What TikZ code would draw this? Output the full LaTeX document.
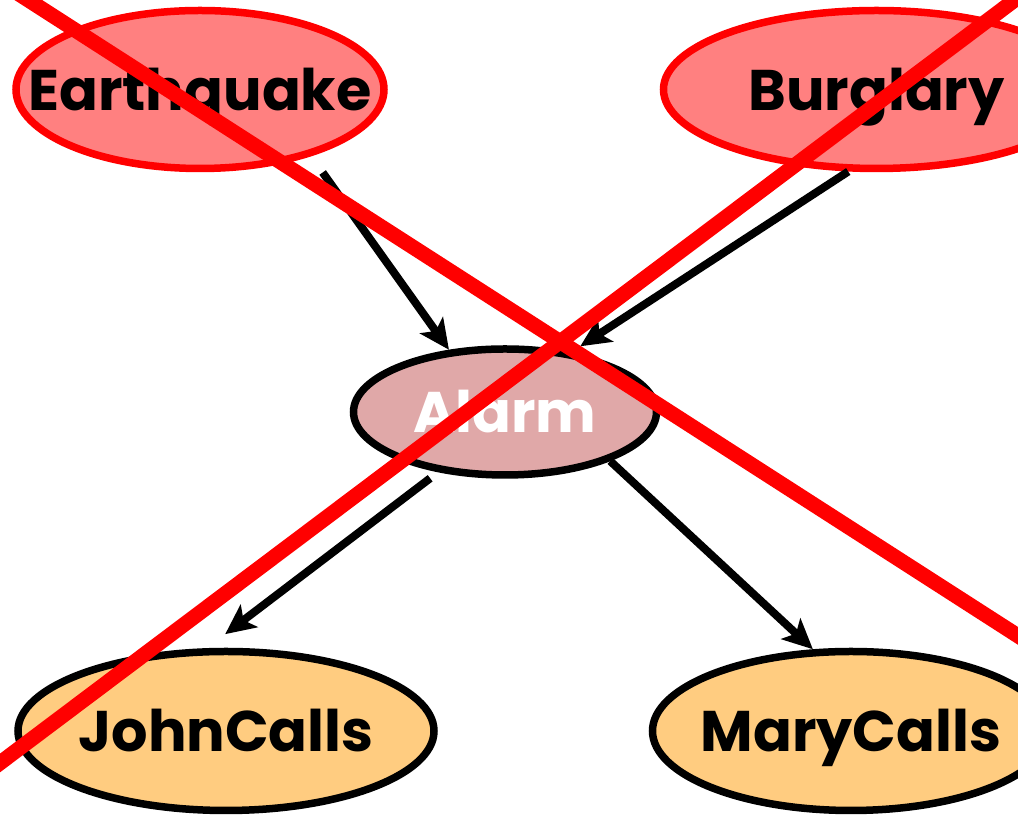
\documentclass[tikz,border=0pt]{standalone}
\usepackage{fontspec}
\setmainfont{Poppins}
\usetikzlibrary{shapes.geometric,arrows.meta}
\definecolor{causefill}{HTML}{FF8080}
\definecolor{alarmfill}{HTML}{E0A8A8}
\definecolor{callfill}{HTML}{FFCC80}

\begin{document}
\begin{tikzpicture}[
    font=\fontsize{16.3}{20}\selectfont\bfseries,
    var/.style={ellipse, line width=0.075cm, inner sep=0pt, text height=0.42cm, text depth=0pt},
    cause/.style={var, draw=red, fill=causefill, minimum height=1.58cm},
    alarmnode/.style={var, draw=black, fill=alarmfill, text=white},
    call/.style={var, draw=black, fill=callfill, minimum height=1.59cm},
    link/.style={-{Stealth[length=0.3cm,width=0.28cm,inset=0.07cm]}, line width=0.08cm},
    crossout/.style={draw=red, line width=0.15cm}
  ]
    \useasboundingbox (0,0) rectangle (10.18,-8.15);
    \clip (0,0) rectangle (10.18,-8.15);

    % the five variables
    \node [cause, minimum width=3.68cm] (eq) at (2.00,-0.895) {\makebox[0pt]{Earthquake}};
    \node [cause, minimum width=4.26cm] (burg) at (8.765,-0.895) {\makebox[0pt]{Burglary}};
    \node [alarmnode, minimum width=3.03cm, minimum height=1.26cm] (alarm) at (5.05,-4.12) {\makebox[0pt]{Alarm}};
    \node [call, minimum width=4.16cm] (john) at (2.26,-7.31) {\makebox[0pt]{JohnCalls}};
    \node [call, minimum width=3.97cm] (mary) at (8.51,-7.31) {\makebox[0pt]{MaryCalls}};

    % dependencies
    \draw [link, shorten <=0.2cm] (eq.-31) -- (alarm.132);
    \draw [link, shorten >=0.1cm] (burg.-109) -- (alarm.42);
    \draw [link, shorten <=0.1cm, shorten >=0.23cm] (alarm.222) -- (john.103);
    \draw [link] (alarm.-25) -- (mary.115);

    % crossed out
    \draw [crossout] (-0.2,0.31) -- (10.4,-6.50);
    \draw [crossout] (10.4,0.19) -- (-0.2,-7.78);
  \end{tikzpicture}
\end{document}
